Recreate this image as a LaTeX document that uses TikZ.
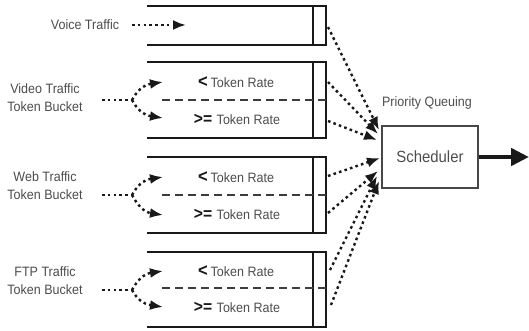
\documentclass[tikz,border=0pt]{standalone}
\usepackage{fontspec}
\setmainfont{Liberation Sans}[FakeStretch=0.92]
\usetikzlibrary{arrows.meta}
\definecolor{ink}{gray}{0.1}
\definecolor{txt}{gray}{0.3}
\begin{document}
\begin{tikzpicture}[x=1pt,y=-1pt,
  lbl/.style={font=\fontsize{13.6}{18}\selectfont, text=txt, inner sep=0pt, align=center},
  rate/.style={font=\fontsize{13.6}{14}\selectfont, text=txt, inner sep=0pt},
  qline/.style={draw=ink, line width=1.8pt},
  divider/.style={draw=ink!85, line width=1.7pt, dash pattern=on 8pt off 5pt},
  flow/.style={draw=ink, line width=2.4pt, dash pattern=on 2.6pt off 3.2pt,
    -{Latex[length=13pt,width=10pt]}},
  feed/.style={draw=ink, line width=2.4pt, dash pattern=on 2.6pt off 3.2pt}
]
\useasboundingbox (0,0) rectangle (529,330);

% ---- queues: open on the left, with a service slot at the right end ----
\foreach \t/\b in {6/45, 62/138, 157/233, 252/327}{
  \draw[qline] (147,\t) -- (326,\t) -- (326,\b) -- (147,\b);
  \draw[qline] (313,\t) -- (313,\b);
}
\draw[divider] (162,100) -- (326,100);
\draw[divider] (162,195) -- (326,195);
\draw[divider] (162,288) -- (326,288);

% ---- rate labels inside the token-bucket queues ----
\foreach \n/\ya/\yb in {v/82/119, w/177/214, f/271/307}{
  \node[rate] (lt\n) at (236,\ya) {{\fontsize{18}{18}\selectfont\bfseries\textcolor{ink}{<}}\hspace{3pt}Token Rate};
  \node[rate] (ge\n) at (237,\yb) {{\fontsize{17}{17}\selectfont\bfseries\textcolor{ink}{>=}}\hspace{4.5pt}Token Rate};
}

% ---- traffic sources ----
\node[lbl] (voice) at (85,25) {Voice Traffic};
\node[lbl] (video) at (45,98) {Video Traffic\\Token Bucket};
\node[lbl] (web)   at (45,186) {Web Traffic\\Token Bucket};
\node[lbl] (ftp)   at (45,281) {FTP Traffic\\Token Bucket};

\coordinate (voicefrom) at (132,25);
\coordinate (voicein) at (186,25);
\draw[flow] (voicefrom) -- (voicein);

% split points and entries of each token bucket
\coordinate (vidfrom) at (102,100); \coordinate (vidsplit) at (132,100);
\coordinate (webfrom) at (102,195); \coordinate (websplit) at (132,195);
\coordinate (ftpfrom) at (102,290); \coordinate (ftpsplit) at (132,290);
\coordinate (vidlo) at (163,82);  \coordinate (vidhi) at (163,118);
\coordinate (weblo) at (163,177); \coordinate (webhi) at (163,215);
\coordinate (ftplo) at (163,271); \coordinate (ftphi) at (163,307);

\foreach \s in {vid, web, ftp}{
  \draw[feed] (\s from) -- (\s split);
  \draw[flow] (\s split) .. controls ([shift={(5,-9)}]\s split) and ([shift={(-20,3)}]\s lo) .. (\s lo);
  \draw[flow] (\s split) .. controls ([shift={(5,9)}]\s split) and ([shift={(-20,-3)}]\s hi) .. (\s hi);
}

% ---- scheduler ----
\node[draw=ink!80, line width=1.3pt, minimum width=96pt, minimum height=62pt,
  inner sep=0pt, font=\fontsize{16.2}{16}\selectfont, text=txt] (sched) at (430,157) {Scheduler};
\node[lbl] (pq) at (427,103) {Priority Queuing};
\coordinate (out) at (529,157);
\draw[draw=ink, line width=4.5pt, -{Triangle[length=18pt,width=17pt]}] (sched.east) -- (out);

% queue heads towards the scheduler
\coordinate (q1) at (328,27);
\coordinate (q2a) at (328,82);  \coordinate (q2b) at (328,121);
\coordinate (q3a) at (328,176); \coordinate (q3b) at (328,213);
\coordinate (q4a) at (330,270); \coordinate (q4b) at (331,305);
\coordinate (s1) at (379,130);
\coordinate (s2a) at (378,134); \coordinate (s2b) at (377,140);
\coordinate (s3a) at (380,158); \coordinate (s3b) at (378,171);
\coordinate (s4a) at (377,176); \coordinate (s4b) at (379,181);
\foreach \a/\b in {q1/s1, q2a/s2a, q2b/s2b, q3a/s3a, q3b/s3b, q4a/s4a, q4b/s4b}{
  \draw[flow] (\a) -- (\b);
}
\end{tikzpicture}
\end{document}
